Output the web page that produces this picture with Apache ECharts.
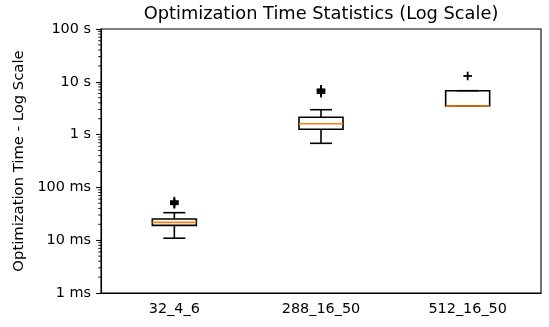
<!DOCTYPE html>
<html>
<head>
<meta charset="utf-8">
<script src="https://cdn.jsdelivr.net/npm/echarts@6/dist/echarts.min.js"></script>
<style>
    html, body { margin: 0; padding: 0; background: #fff; }
    #chart { width: 549px; height: 327px; }
</style>
</head>
<body>
<div id="chart"></div>
<script>
    // values in seconds
    var categories = ['32_4_6', '288_16_50', '512_16_50'];
    var lowerWhisker = [0.0109, 0.684, 3.48];
    var q1 = [0.0191, 1.26, 3.48];
    var median = [0.0218, 1.61, 3.48];
    var q3 = [0.0252, 2.13, 6.78];
    var upperWhisker = [0.0332, 2.96, 6.78];
    var outliers = [
        [0, 0.048], [0, 0.050], [0, 0.052], [0, 0.055],
        [1, 6.1], [1, 6.5], [1, 6.8], [1, 7.2],
        [2, 12.9]
    ];
    var yTickLabels = ['1 ms', '10 ms', '100 ms', '1 s', '10 s', '100 s'];

    // log minor ticks 2..9 of each decade
    var minorTicks = [];
    for (var e = -3; e < 2; e++) {
        for (var m = 2; m <= 9; m++) {
            minorTicks.push([0, m * Math.pow(10, e)]);
        }
    }

    var boxData = categories.map(function (c, i) {
        return [i, lowerWhisker[i], q1[i], median[i], q3[i], upperWhisker[i]];
    });

    var font = 'DejaVu Sans';
    var lw = 1.6;

    function line(x1, y1, x2, y2, color, width) {
        return {
            type: 'line',
            shape: {x1: x1, y1: y1, x2: x2, y2: y2},
            style: {stroke: color, lineWidth: width}
        };
    }

    function renderBox(params, api) {
        var i = api.value(0);
        var x = api.coord([i, api.value(1)])[0];
        var yLw = api.coord([i, api.value(1)])[1];
        var yQ1 = api.coord([i, api.value(2)])[1];
        var yMed = api.coord([i, api.value(3)])[1];
        var yQ3 = api.coord([i, api.value(4)])[1];
        var yUw = api.coord([i, api.value(5)])[1];
        var half = api.size([1, 0])[0] * 0.15;
        var cap = half / 2;
        return {
            type: 'group',
            children: [
                line(x, yQ1, x, yLw, '#000', lw),
                line(x, yQ3, x, yUw, '#000', lw),
                line(x - cap, yLw, x + cap, yLw, '#000', lw),
                line(x - cap, yUw, x + cap, yUw, '#000', lw),
                {
                    type: 'rect',
                    shape: {x: x - half, y: yQ3, width: half * 2, height: yQ1 - yQ3},
                    style: {fill: null, stroke: '#000', lineWidth: lw}
                },
                line(x - half, yMed, x + half, yMed, '#ff7f0e', lw)
            ]
        };
    }

    function renderPlus(params, api) {
        var p = api.coord([api.value(0), api.value(1)]);
        var s = 4.3;
        return {
            type: 'group',
            children: [
                line(p[0] - s, p[1], p[0] + s, p[1], '#000', 1.8),
                line(p[0], p[1] - s, p[0], p[1] + s, '#000', 1.8)
            ]
        };
    }

    function renderMinor(params, api) {
        var y = api.coord([0, api.value(1)])[1];
        var x0 = params.coordSys.x;
        return line(x0 - 2.8, y, x0, y, '#000', 0.9);
    }

    var chart = echarts.init(document.getElementById('chart'));
    var option = {
        animation: false,
        backgroundColor: '#fff',
        textStyle: {fontFamily: font},
        graphic: [{
            type: 'text',
            x: 321,
            y: 14,
            style: {
                text: 'Optimization Time Statistics (Log Scale)',
                fontFamily: font,
                fontSize: 17.8,
                fill: '#000',
                align: 'center',
                verticalAlign: 'middle'
            }
        }],
        grid: {
            left: 101,
            right: 8,
            top: 29,
            bottom: 34,
            show: true,
            borderColor: '#000',
            borderWidth: 1.1
        },
        xAxis: {
            type: 'category',
            data: categories,
            boundaryGap: true,
            axisLine: {lineStyle: {color: '#000', width: 1.1}},
            axisTick: {alignWithLabel: true, length: 4.9, lineStyle: {color: '#000', width: 1.1}},
            axisLabel: {color: '#000', fontSize: 14.4, fontFamily: font, margin: 9},
            splitLine: {show: false}
        },
        yAxis: {
            type: 'log',
            logBase: 10,
            min: 0.001,
            max: 100,
            splitNumber: 5,
            name: 'Optimization Time - Log Scale',
            nameLocation: 'middle',
            nameGap: 72,
            nameTextStyle: {color: '#000', fontSize: 14.8, fontFamily: font},
            axisLine: {show: true, lineStyle: {color: '#000', width: 1.1}},
            axisTick: {show: true, length: 4.9, lineStyle: {color: '#000', width: 1.1}},
            axisLabel: {
                color: '#000',
                fontSize: 14.4,
                fontFamily: font,
                margin: 10,
                formatter: function (v) {
                    return yTickLabels[Math.round(Math.log10(v)) + 3];
                }
            },
            splitLine: {show: false}
        },
        series: [
            {
                type: 'custom',
                renderItem: renderMinor,
                data: minorTicks,
                silent: true,
                clip: false
            },
            {
                type: 'custom',
                renderItem: renderBox,
                data: boxData,
                encode: {x: 0, y: [1, 2, 3, 4, 5]}
            },
            {
                type: 'custom',
                renderItem: renderPlus,
                data: outliers,
                encode: {x: 0, y: 1}
            }
        ]
    };
    chart.setOption(option);
</script>
</body>
</html>
